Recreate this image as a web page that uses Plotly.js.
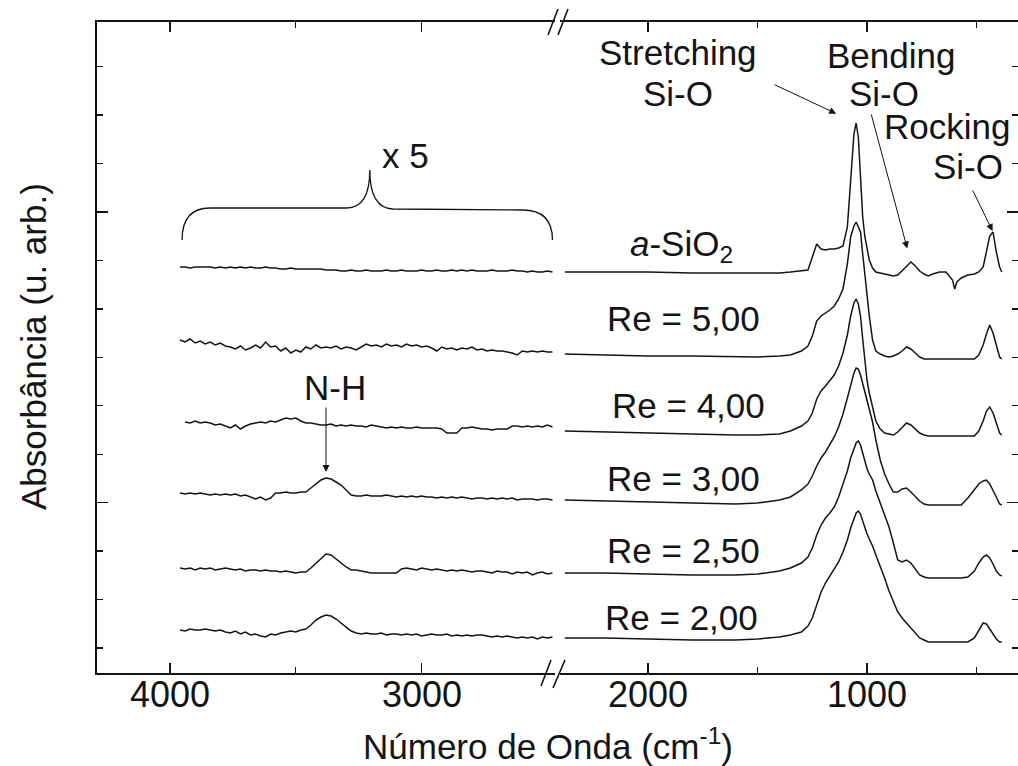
<!DOCTYPE html>
<html>
<head>
<meta charset="utf-8">
<script src="https://cdn.plot.ly/plotly-3.0.1.min.js"></script>
<style>html,body{margin:0;padding:0;background:#fff}</style>
</head>
<body>
<div id="chart" style="width:1018px;height:766px"></div>
<script>
// FTIR absorbance spectra of SiOxNy films, stacked with vertical offsets.
// Left window (N-H region) is magnified x5; right window shows the Si-O bands.

const samples = ['a-SiO2', 'Re = 5,00', 'Re = 4,00', 'Re = 3,00', 'Re = 2,50', 'Re = 2,00'];
const sampleLabels = ['<i>a</i>-SiO<sub>2</sub>', 'Re = 5,00', 'Re = 4,00', 'Re = 3,00', 'Re = 2,50', 'Re = 2,00'];
// vertical offset of each spectrum (a.u.)
const offsets = [0.802, 0.638, 0.484, 0.346, 0.200, 0.070];
const magnification = 5;

// ---- high-wavenumber window (cm-1), absorbance in mAbs before magnification
const wnLeft = [3960,3940,3920,3900,3880,3860,3840,3820,3800,3780,3760,3740,3720,3700,3680,
  3660,3640,3620,3600,3580,3560,3540,3520,3500,3480,3460,3440,3420,3400,3380,
  3360,3340,3320,3300,3280,3260,3240,3220,3200,3180,3160,3140,3120,3100,3080,
  3060,3040,3020,3000,2980,2960,2940,2920,2900,2880,2860,2840,2820,2800,2780,
  2760,2740,2720,2700,2680,2660,2640,2620,2600,2580,2560,2540,2520,2500,2480];

const nhSiO2 = [2.0,2.0,1.6,2.0,2.0, 2.0,2.0,1.6,2.0,1.6, 2.0,1.6,2.0,1.6,2.0,
  1.6,1.6,2.0,1.6,1.6, 1.2,1.2,1.6,1.2,1.2, 1.2,1.2,1.2,1.2,0.8,
  0.8,0.8,0.4,0.4,0.8, 0.4,0.4,0.8,0.4,0.4, 0.4,0.8,0.4,0.4,0.8,
  0.4,0.4,0.4,0.8,0.4, 0.4,0.8,0.4,0.4,0.8, 0.4,0.8,0.4,0.8,0.4,
  0.4,0.4,0.8,0.4,0.4, 0.4,0.8,0.4,0.4,0, 0.4,0,0,0.4,0];
const nhRe500 = [5.6,4.8,6.0,4.4,5.2, 4.0,4.8,3.6,4.4,3.2, 2.8,2.0,3.2,1.6,2.4,
  3.6,2.4,4.8,2.8,3.2, 1.2,2.4,0.4,1.6,0.8, 2.8,2.0,3.6,2.4,2.8,
  2.4,3.2,2.0,2.8,2.4, 1.6,2.8,4.0,3.2,3.6, 2.8,4.0,3.2,3.6,2.8,
  4.0,3.2,3.6,2.8,3.2, 2.4,1.2,2.8,2.0,2.4, 1.6,2.4,2.0,2.8,1.6,
  2.0,1.2,1.6,1.2,1.2, 0.8,0.4,-0.4,1.2,0.8, 1.2,0.8,1.2,0.8,0.8];
const nhRe400 = [null,3.6,3.2,4.0,3.2, 3.6,3.2,2.4,2.8,2.0, 1.2,2.4,0.8,2.0,2.8,
  3.2,3.6,3.2,4.0,3.6, 4.4,5.2,4.8,5.2,4.0, 3.2,3.2,2.8,2.4,2.4,
  2.8,2.0,2.4,2.0,2.4, 2.0,2.0,1.6,2.4,2.0, 1.6,1.2,1.6,1.2,1.6,
  1.2,1.2,1.6,1.2,1.2, 1.2,1.2,0.8,-0.8,-0.8, -0.8,1.2,1.2,1.6,1.2,
  0.8,0.8,0.4,0.8,0.8, 0.8,2.0,2.0,1.6,2.0, 1.6,2.0,1.6,2.4,1.6];
const nhRe300 = [2.8,2.4,2.8,2.4,2.8, 2.4,2.0,2.4,2.0,2.4, 2.0,2.4,1.6,2.0,1.2,
  0.4,1.2,0,0.8,2.8, 2.8,3.2,2.8,2.8,3.2, 3.2,4.8,6.4,8.0,8.8,
  8.4,7.2,6.0,4.0,2.0, 1.6,1.6,2.0,1.6,1.6, 1.6,2.0,1.6,1.2,1.6,
  1.2,1.6,1.2,1.6,1.2, 1.2,0.8,1.2,0.8,1.2, 0.8,1.2,0.8,0.4,0.8,
  0.8,0.4,0.8,0.4,0.8, 0.4,0.8,0,0.4,0.4, 0.4,0,0.4,0.4,0];
const nhRe250 = [2.0,1.6,2.0,1.2,2.0, 1.6,2.0,1.2,1.6,2.0, 1.6,1.2,1.6,0.8,1.2,
  1.2,0.8,1.2,0.8,0.8, 0.4,0.8,0.4,0,0.4, 0.4,2.0,4.0,6.0,7.6,
  7.2,5.6,4.0,2.4,1.2, 1.2,0.8,0.4,0,0, 0,0,0,0,1.6,
  2.0,1.6,1.2,2.0,1.6, 1.2,1.6,1.2,0.8,1.2, 0.8,1.2,0.8,0.4,0.8,
  0.8,0.4,0,0.8,0.4, 0.4,-0.4,0.4,0,0.4, -0.8,0,0.4,-0.4,0];
const nhRe200 = [3.2,2.8,3.6,3.2,3.2, 3.6,3.2,2.8,3.2,2.4, 2.0,2.8,1.6,2.4,1.2,
  1.6,0.8,0.4,1.6,1.2, 2.0,2.4,2.8,2.4,3.2, 3.6,5.2,7.2,8.4,9.2,
  8.8,7.6,6.0,4.4,2.8, 2.0,1.6,2.0,1.6,1.6, 2.0,1.2,1.6,1.6,1.2,
  1.6,1.2,1.6,0.8,1.2, 1.6,1.2,1.2,1.6,0.8, 1.2,0.8,1.2,0.8,1.2,
  1.2,0.8,0.4,0.8,0.4, 0.8,0.4,0,0.4,0, 0.4,-0.4,0.4,0,0.4];

// ---- Si-O window (cm-1), absorbance (a.u.)
const wnRight = [2380,2200,2000,1800,1600, 1500,1400,1350,1300,1270, 1250,1230,1210,1190,1170,
  1150,1130,1110,1090,1075, 1060,1050,1040,1030,1020, 1010,1000,990,975,960,
  940,920,900,880,860, 840,820,800,780,760, 740,720,700,670,640,
  610,600,590,570,540, 510,490,470,455,440, 425,410,395,385];

const siSiO2 = [0,0,0,-0.002,-0.002, -0.002,-0.002,0,0.002,0.004, 0.030,0.056,0.046,0.044,0.046,
  0.046,0.048,0.052,0.090,0.190, 0.276,0.298,0.270,0.190,0.110, 0.070,0.044,0.024,0.008,0,
  -0.002,-0.004,-0.006,-0.008,-0.006, 0.002,0.012,0.020,0.012,0.002, -0.004,-0.008,-0.004,0,0,
  -0.016,-0.034,-0.020,-0.012,-0.006, -0.004,0,0.010,0.044,0.072, 0.080,0.040,0.010,0];
const siRe500 = [0,-0.002,-0.004,-0.004,-0.006, -0.006,-0.004,-0.002,0.006,0.016, 0.036,0.066,0.076,0.082,0.088,
  0.096,0.110,0.130,0.180,0.234, 0.256,0.264,0.252,0.244,0.200, 0.156,0.108,0.076,0.028,0.006,
  0,-0.004,-0.006,-0.004,0, 0.006,0.014,0.010,0.002,-0.006, -0.010,-0.010,-0.010,-0.010,-0.010,
  -0.010,-0.010,-0.010,-0.010,-0.010, -0.010,-0.002,0.018,0.040,0.058, 0.042,0.020,-0.006,-0.010];
const siRe400 = [0,-0.002,-0.004,-0.006,-0.008, -0.008,-0.006,0,0.010,0.020, 0.036,0.064,0.080,0.090,0.100,
  0.112,0.130,0.156,0.192,0.230, 0.256,0.264,0.254,0.230,0.184, 0.140,0.100,0.076,0.048,0.020,
  0.004,-0.004,-0.006,-0.008,-0.002, 0.008,0.016,0.012,0.004,-0.004, -0.008,-0.010,-0.010,-0.010,-0.010,
  -0.010,-0.010,-0.010,-0.010,-0.010, -0.010,0,0.020,0.040,0.048, 0.036,0.016,-0.004,-0.008];
const siRe300 = [0,-0.002,-0.004,-0.006,-0.008, -0.006,0,0.006,0.020,0.032, 0.048,0.068,0.084,0.096,0.110,
  0.126,0.146,0.172,0.204,0.232, 0.254,0.264,0.262,0.250,0.232, 0.214,0.196,0.184,0.156,0.120,
  0.080,0.052,0.032,0.016,0.016, 0.022,0.024,0.016,0.006,-0.002, -0.008,-0.010,-0.010,-0.010,-0.010,
  -0.010,-0.010,-0.010,-0.010,0.004, 0.022,0.032,0.038,0.040,0.032, 0.020,0.006,-0.008,-0.010];
const siRe250 = [0,0,-0.002,-0.004,-0.004, -0.002,0.004,0.010,0.020,0.032, 0.050,0.076,0.096,0.110,0.120,
  0.132,0.152,0.176,0.204,0.230, 0.250,0.260,0.264,0.256,0.240, 0.224,0.208,0.198,0.186,0.164,
  0.140,0.116,0.092,0.060,0.026, 0.022,0.026,0.020,0.008,-0.004, -0.008,-0.010,-0.010,-0.010,-0.010,
  -0.010,-0.010,-0.010,-0.010,-0.008, 0.004,0.020,0.032,0.036,0.030, 0.018,0.004,-0.004,-0.006];
const siRe200 = [0,0,-0.002,-0.004,-0.004, -0.002,0.002,0.006,0.012,0.024, 0.040,0.064,0.092,0.110,0.124,
  0.136,0.152,0.172,0.196,0.220, 0.240,0.250,0.254,0.248,0.234, 0.220,0.208,0.198,0.184,0.166,
  0.144,0.120,0.094,0.072,0.052, 0.040,0.030,0.018,0.008,0, -0.004,-0.008,-0.008,-0.008,-0.008,
  -0.008,-0.008,-0.008,-0.008,-0.008, 0,0.016,0.030,0.028,0.018, 0.008,-0.002,-0.008,-0.008];

const leftSpectra = [nhSiO2, nhRe500, nhRe400, nhRe300, nhRe250, nhRe200];
const rightSpectra = [siSiO2, siRe500, siRe400, siRe300, siRe250, siRe200];

// axis ticks
const xTicksLeft = [4000, 3000], xMinorLeft = [3500];
const xTicksRight = [2000, 1000], xMinorRight = [1500, 500];

// ---------------------------------------------------------------
const FONT = 'Liberation Sans, Arial, Helvetica, sans-serif';
const INK = '#141414';

const traces = [];
samples.forEach((name, i) => {
  traces.push({
    x: wnLeft,
    y: leftSpectra[i].map(v => v === null ? null : offsets[i] + magnification * v / 1000),
    xaxis: 'x', yaxis: 'y', mode: 'lines', line: {color: INK, width: 1.5}, name: name,
    hoverinfo: 'skip', connectgaps: false
  });
  traces.push({
    x: wnRight,
    y: rightSpectra[i].map(v => offsets[i] + v),
    xaxis: 'x2', yaxis: 'y2', mode: 'lines', line: {color: INK, width: 1.5}, name: name,
    hoverinfo: 'skip'
  });
});

// plot box in page pixels
const L = 97, T = 22, R = 1018, B = 673;
const PW = R - L, PH = B - T;
const px = v => (v - L) / PW;
const py = v => (B - v) / PH;

const axisCommon = {
  showline: true, linecolor: INK, linewidth: 2, showgrid: false, zeroline: false,
  ticks: 'inside', tickcolor: INK, tickwidth: 1.5, fixedrange: true
};

// tick labels of the broken x axis are written just under the axis line
const xBase = Object.assign({}, axisCommon, {
  mirror: 'ticks', ticklen: 10, tickmode: 'array', showticklabels: false
});

const yBase = Object.assign({}, axisCommon, {
  domain: [0, 1], range: [0, 1.302], showticklabels: false,
  tickmode: 'linear', tick0: 0.3407, dtick: 0.5814, ticklen: 11,
  minor: {ticks: 'inside', tickmode: 'linear', tick0: 0.050, dtick: 0.0969,
          ticklen: 6, tickwidth: 1.3, tickcolor: INK, showgrid: false}
});

const layout = {
  width: 1018, height: 766,
  margin: {l: L, r: 1018 - R, t: T, b: 766 - B, pad: 0},
  paper_bgcolor: '#fff', plot_bgcolor: '#fff',
  showlegend: false,
  font: {family: FONT, color: INK},
  xaxis: Object.assign({}, xBase, {
    domain: [0, px(555)], range: [4290, 2470], anchor: 'y',
    tickvals: xTicksLeft,
    minor: {ticks: 'inside', tickmode: 'array', tickvals: xMinorLeft, ticklen: 6, tickwidth: 1.3, tickcolor: INK}
  }),
  xaxis2: Object.assign({}, xBase, {
    domain: [px(560), 1], range: [2402, 311], anchor: 'y2',
    tickvals: xTicksRight,
    minor: {ticks: 'inside', tickmode: 'array', tickvals: xMinorRight, ticklen: 6, tickwidth: 1.3, tickcolor: INK}
  }),
  yaxis: Object.assign({}, yBase, {anchor: 'x', side: 'left'}),
  yaxis2: Object.assign({}, yBase, {anchor: 'x2', side: 'right', matches: 'y'}),
  shapes: [],
  annotations: []
};

// axis-break marks
const brk = (x0, y0, x1, y1) => ({type: 'line', xref: 'paper', yref: 'paper',
  x0: px(x0), y0: py(y0), x1: px(x1), y1: py(y1), line: {color: INK, width: 1.6}});
layout.shapes.push(brk(548, 35, 558, 9), brk(558, 35, 568, 9));
layout.shapes.push(brk(541, 686, 551, 660), brk(553, 688, 565, 660));

// brace over the magnified window
layout.shapes.push({
  type: 'path', xref: 'x', yref: 'y',
  path: 'M 3952,0.866 Q 3952,0.930 3841,0.930 L 3298,0.930 Q 3206,0.930 3206,1.006 ' +
        'Q 3206,0.930 3115,0.928 L 2599,0.926 Q 2480,0.926 2480,0.866',
  line: {color: INK, width: 1.3}
});

// text labels
const txt = (text, x, y, size, extra) => Object.assign({
  text: text, xref: 'paper', yref: 'paper', x: px(x), y: py(y),
  xanchor: 'center', yanchor: 'middle', showarrow: false,
  font: {family: FONT, size: size, color: INK}
}, extra || {});

// x tick labels, one per major tick value
const tickLabel = (xref, v) => ({
  text: String(v), xref: xref, yref: 'paper', x: v, y: py(694),
  xanchor: 'center', yanchor: 'middle', showarrow: false,
  font: {family: FONT, size: 36, color: INK}
});
xTicksLeft.forEach(v => layout.annotations.push(tickLabel('x', v)));
xTicksRight.forEach(v => layout.annotations.push(tickLabel('x2', v)));

const labelPos = [[681, 246], [683, 318], [688, 405], [683, 478], [683, 550], [681, 617]];
sampleLabels.forEach((t, i) => layout.annotations.push(txt(t, labelPos[i][0], labelPos[i][1], 35)));

layout.annotations.push(
  txt('x 5', 405, 156, 35),
  txt('N-H', 335, 387, 35),
  txt('Stretching', 678, 52, 35), txt('Si-O', 678, 93, 35),
  txt('Bending', 891, 55, 35), txt('Si-O', 884, 94, 35),
  txt('Rocking', 947, 126, 35), txt('Si-O', 968, 166, 35),
  txt('Número de Onda (cm<sup>-1</sup>)', 548, 744, 35),
  txt('Absorbância (u. arb.)', 33, 347, 35, {textangle: -90})
);

// arrows pointing at the bands
const arrow = (xref, yref, x, y, ax, ay, standoff) => ({
  xref: xref, yref: yref, x: x, y: y, ax: ax, ay: ay, text: '',
  showarrow: true, arrowhead: 2, arrowsize: 1.4, arrowwidth: 1, arrowcolor: INK,
  standoff: standoff
});
layout.annotations.push(
  arrow('x2', 'y2', 1050, offsets[0] + siSiO2[21], -83, -39, 22),
  arrow('x2', 'y2', 800, offsets[0] + siSiO2[37], -40, -149, 14),
  arrow('x2', 'y2', 425, offsets[0] + siSiO2[55], -21, -43, 1),
  arrow('x', 'y', 3380, offsets[3] + magnification * nhRe300[29] / 1000, 0, -72, 6)
);

Plotly.newPlot('chart', traces, layout, {staticPlot: true, displayModeBar: false});
</script>
</body>
</html>
